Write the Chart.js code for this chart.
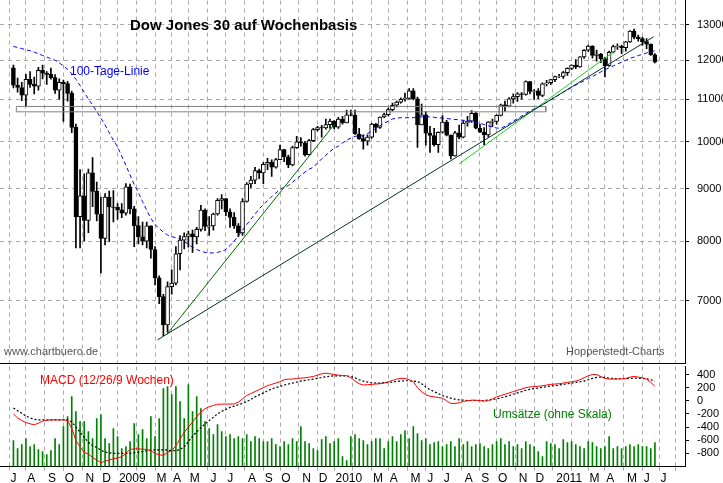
<!DOCTYPE html>
<html>
<head>
<meta charset="utf-8">
<script src="https://cdn.jsdelivr.net/npm/chart.js@4/dist/chart.umd.min.js"></script>
<style>
  body { margin: 0; background: #fff; width: 723px; height: 483px; overflow: hidden; position: relative; font-family: "Liberation Sans", Arial, sans-serif; }
  #top { position: absolute; left: 0; top: -14px; }
  #bottom { position: absolute; left: 0; top: 352px; }
  .lbl { position: absolute; white-space: nowrap; font-size: 12px; }
</style>
</head>
<body>
<canvas id="top" width="723" height="392"></canvas>
<canvas id="bottom" width="723" height="135"></canvas>
<div class="lbl" style="left:130px;top:16px;font-size:15px;font-weight:bold;color:#000">Dow Jones 30 auf Wochenbasis</div>
<div class="lbl" style="left:70px;top:64px;color:#0000ff">100-Tage-Linie</div>
<div class="lbl" style="left:4px;top:345px;font-size:11px;color:#555">www.chartbuero.de</div>
<div class="lbl" style="left:566px;top:345px;font-size:11px;color:#555">Hoppenstedt-Charts</div>
<div class="lbl" style="left:40px;top:373px;color:#ff0000">MACD (12/26/9 Wochen)</div>
<div class="lbl" style="left:493px;top:407px;color:#008000">Umsätze (ohne Skala)</div>
<script>
// weekly data, week 0 = end of June 2008
const firstOpen = 11800;
const closes = [11346,11289,11100,11496,11371,11326,11734,11659,11628,11543,
  11220,11421,11388,11143,10325,8451,8852,8378,9325,8943,
  8497,8046,8829,8635,8629,8579,8515,9034,8599,8281,
  8077,8000,8280,7850,7366,7063,6627,7224,7279,7776,
  8017,8083,8131,8076,8212,8575,8268,8277,8500,8764,
  8799,8540,8438,8280,8146,8743,9093,9172,9370,9321,
  9505,9544,9441,9605,9820,9665,9488,9865,9996,9972,
  9713,10023,10271,10319,10310,10388,10472,10329,10520,10428,
  10618,10610,10172,10067,10012,10099,10402,10325,10566,10624,
  10742,10850,10927,10997,11019,11204,11009,10380,10620,10193,
  10137,9931,10211,10450,10144,9686,10198,10097,10425,10466,
  10654,10303,10213,10150,10448,10462,10607,10860,10829,11006,
  11062,11132,11118,11444,11192,11203,11092,11382,11410,11491,
  11573,11577,11674,11787,11871,11823,12092,12273,12391,12130,
  12169,12044,11858,12220,12376,12380,12342,12505,12810,12638,
  12596,12512,12441,12151,11951];
const highs = [11870,11530,11420,11630,11700,11560,11810,11870,11700,11790,
  11620,11510,11480,11450,11200,10400,9390,9300,9400,9650,
  9130,8830,8900,8950,8960,8700,8700,9100,9090,8650,
  8450,8350,8350,8280,7900,7400,7100,7300,7500,7900,
  8100,8150,8180,8200,8250,8670,8600,8450,8520,8800,
  8880,8800,8600,8530,8320,8800,9120,9250,9440,9400,
  9540,9630,9600,9630,9920,9830,9700,9900,10120,10090,
  10000,10050,10300,10350,10370,10520,10520,10480,10560,10580,
  10730,10730,10730,10300,10150,10150,10420,10420,10570,10660,
  10780,10900,10950,11030,11150,11260,11260,11050,10880,10700,
  10350,10300,10220,10600,10490,10150,10230,10380,10480,10580,
  10720,10690,10400,10320,10460,10520,10620,10880,10950,11040,
  11130,11160,11160,11460,11450,11240,11260,11410,11470,11500,
  11580,11630,11710,11800,11880,12020,12100,12290,12420,12400,
  12280,12190,12080,12250,12420,12450,12420,12520,12830,12870,
  12700,12640,12600,12450,12180];
const lows = [11280,11170,10960,10830,11290,11130,11220,11510,11370,11500,
  11140,11000,10460,10950,10200,7880,7880,8000,8150,8640,
  8370,7450,7930,7990,8350,8400,8430,8480,8500,7900,
  7950,7930,7880,7700,7250,6950,6470,6520,7100,7250,
  7500,7860,7890,7800,7950,8180,8190,8100,8200,8480,
  8600,8470,8250,8230,8080,8100,8730,9020,9100,9200,
  9100,9390,9250,9420,9600,9560,9430,9470,9850,9900,
  9680,9700,10000,10240,10100,10280,10300,10290,10300,10400,
  10430,10590,10160,10050,9830,9920,10070,10210,10300,10550,
  10590,10710,10810,10900,10950,11000,10980,9870,10380,9920,
  9760,9900,9760,10190,10130,9620,9680,10060,10080,10350,
  10440,10290,10200,9930,10100,10340,10400,10590,10700,10810,
  10900,10940,11000,11100,11130,10990,11010,11060,11330,11360,
  11440,11540,11520,11600,11750,11780,11810,12050,12240,12060,
  11980,11940,11560,11840,12200,12300,12180,12250,12490,12590,
  12530,12410,12320,12130,11930];
const ma100 = [12380,12350,12320,12290,12260,12220,12180,12130,12090,12040,
  12000,11930,11850,11760,11650,11500,11340,11170,11000,10860,
  10700,10540,10380,10200,10030,9880,9680,9480,9280,9080,
  8920,8740,8570,8420,8300,8230,8160,8110,8080,8060,
  8030,7990,7940,7890,7850,7820,7800,7790,7790,7800,
  7820,7850,7920,8000,8090,8200,8300,8400,8500,8600,
  8680,8760,8840,8910,8980,9030,9060,9130,9200,9270,
  9340,9400,9440,9530,9620,9700,9780,9850,9900,9970,
  10030,10080,10120,10130,10130,10180,10240,10300,10360,10420,
  10470,10520,10540,10550,10550,10550,10550,10560,10570,10570,
  10570,10560,10550,10540,10530,10520,10510,10500,10490,10480,
  10470,10450,10420,10390,10360,10330,10310,10300,10350,10410,
  10470,10530,10590,10650,10710,10760,10800,10860,10920,10980,
  11040,11110,11170,11230,11290,11350,11410,11460,11520,11570,
  11630,11690,11750,11800,11850,11900,11950,12000,12050,12090,
  12130,12160,12200,12230,12260];
const macd = [-200,-260,-300,-330,-350,-365,-340,-310,-295,-290,
  -290,-290,-290,-300,-420,-600,-700,-785,-810,-860,
  -900,-940,-920,-900,-880,-870,-850,-800,-740,-730,
  -730,-735,-740,-760,-800,-820,-830,-780,-760,-680,
  -580,-480,-400,-320,-240,-170,-120,-90,-70,-55,
  -50,-50,-50,-48,-20,30,80,110,140,170,
  200,230,250,270,290,320,330,330,340,345,
  350,360,370,390,410,420,410,400,390,385,
  380,350,300,260,240,245,250,255,260,270,
  290,310,330,340,340,320,290,200,140,90,
  70,60,50,40,0,-40,-40,-30,-10,0,
  10,10,0,-5,0,30,60,80,100,120,
  140,160,180,200,210,215,220,230,240,250,
  255,260,270,280,290,300,320,350,380,400,
  400,370,340,330,330,330,335,340,360,370,
  360,350,330,280,220];
const signal = [-110,-150,-190,-230,-260,-280,-290,-290,-290,-290,
  -290,-290,-290,-290,-320,-400,-480,-560,-630,-680,
  -710,-750,-780,-790,-800,-800,-800,-800,-800,-790,
  -780,-770,-760,-750,-745,-745,-745,-750,-755,-760,
  -740,-700,-620,-540,-470,-410,-350,-300,-250,-200,
  -160,-130,-100,-80,-60,-40,-10,20,60,90,
  120,150,180,200,220,240,255,270,285,300,
  310,320,330,340,355,365,375,380,380,380,
  378,370,350,320,300,285,275,270,270,275,
  280,285,295,300,305,305,300,295,260,210,
  170,140,110,80,60,40,25,15,10,5,
  5,5,5,5,10,20,30,45,60,80,
  100,120,140,160,175,185,195,205,215,225,
  230,240,250,260,270,280,290,300,320,340,
  355,360,355,345,340,335,335,335,340,345,
  345,340,335,320,300];
const volume = [26,18,22,28,20,22,17,15,12,16,
  28,22,40,50,70,55,45,45,35,28,
  48,52,28,23,38,30,18,20,25,43,
  32,37,28,50,30,48,78,80,72,80,
  65,48,82,55,70,58,45,38,32,42,
  35,30,32,28,30,28,32,25,30,28,
  25,25,28,22,20,25,22,28,25,40,
  25,23,18,16,27,30,23,25,28,10,
  6,30,32,28,26,22,25,28,28,18,
  25,30,25,32,36,28,40,33,26,28,
  22,24,25,20,22,25,20,28,22,25,
  20,22,23,20,18,22,25,28,22,25,
  20,22,18,25,22,20,15,10,25,23,
  22,18,27,24,25,22,20,18,25,24,
  20,18,20,30,18,20,18,20,22,20,
  22,20,20,18,24];

const priceTicks = [7000, 8000, 9000, 10000, 11000, 12000, 13000];
const macdTicks = [400, 200, 0, -200, -400, -600, -800];
const monthWeeks = [1,5,10,14,19,23,27,32,36,40,44,49,53,58,62,66,71,75,79,84,88,92,97,101,105,110,114,118,123,127,132,136,140,144,149,153,157];
const monthLabels = ['J','A','S','O','N','D','2009','','M','A','M','J','J','A','S','O','N','D','2010','','M','A','M','J','J','A','S','O','N','D','2011','','M','A','M','J','J'];

// trend lines [week, price]
const trendBlack = [[34.6, 6410], [153.7, 12650]];
const trendSteep = [[36.7, 6480], [77.1, 10400]];
const trendGreen = [[107, 9510], [144.2, 12240]];
const bandWeeks = [0.7, 127.8];
const bandPrices = [10690, 10820];

const opens = closes.map((c, i) => i === 0 ? firstOpen : closes[i - 1]);
const font = { family: 'Liberation Sans', size: 11 };

function xScale(showLabels) {
  return {
    type: 'linear', min: -1, max: 159,
    afterBuildTicks: s => { s.ticks = monthWeeks.map(v => ({ value: v })); },
    grid: { color: '#a8a8a8', tickLength: 4, drawTicks: showLabels },
    border: { display: true, color: '#000', dash: [4, 4] },
    ticks: {
      display: showLabels, autoSkip: false, maxRotation: 0, align: 'start', labelOffset: -7,
      color: '#000', font: { family: 'Liberation Sans', size: 12 }, padding: 1,
      callback: (v) => { const i = monthWeeks.indexOf(v); return i < 0 ? '' : monthLabels[i]; }
    }
  };
}

const pts = arr => arr.map(p => ({ x: p[0], y: p[1] }));

new Chart(document.getElementById('top'), {
  type: 'bar',
  data: {
    datasets: [
      { type: 'line', data: ma100.map((v, i) => ({ x: i, y: v })), borderColor: '#0000ff', borderWidth: 1, borderDash: [4, 3], pointRadius: 0, order: -1 },
      { type: 'line', data: pts(trendBlack), borderColor: '#003322', borderWidth: 1, pointRadius: 0, order: -2 },
      { type: 'line', data: pts(trendSteep), borderColor: '#006600', borderWidth: 1, pointRadius: 0, order: -2 },
      { type: 'line', data: pts(trendGreen), borderColor: '#22cc22', borderWidth: 1, pointRadius: 0, order: -2 },
      { type: 'line', data: [
          { x: bandWeeks[0], y: bandPrices[1] }, { x: bandWeeks[1], y: bandPrices[1] },
          { x: bandWeeks[1], y: bandPrices[0] }, { x: bandWeeks[0], y: bandPrices[0] },
          { x: bandWeeks[0], y: bandPrices[1] }],
        borderColor: '#808080', borderWidth: 1, pointRadius: 0, order: -1 },
      { data: closes.map((c, i) => ({ x: i, y: [lows[i], highs[i]] })), backgroundColor: '#000', barThickness: 1, grouped: false, order: 2 },
      { data: closes.map((c, i) => ({ x: i, y: [opens[i], c] })),
        backgroundColor: ctx => closes[ctx.dataIndex] >= opens[ctx.dataIndex] ? '#fff' : '#000',
        borderColor: '#000', borderWidth: 1, borderSkipped: false, barThickness: 4, grouped: false, order: 1 }
    ]
  },
  options: {
    responsive: false, animation: false,
    plugins: { legend: { display: false }, tooltip: { enabled: false } },
    scales: {
      x: xScale(false),
      y: {
        type: 'logarithmic', position: 'right', min: 6080, max: 13720,
        afterBuildTicks: s => { s.ticks = priceTicks.map(v => ({ value: v })); },
        afterFit: s => { s.width = 38; },
        grid: { color: '#a8a8a8', tickLength: 4, tickColor: '#000' },
        border: { display: true, color: '#000', dash: [4, 4] },
        ticks: { color: '#000', font, padding: 8, callback: v => String(v) }
      }
    }
  }
});

new Chart(document.getElementById('bottom'), {
  type: 'bar',
  data: {
    datasets: [
      { type: 'line', data: macd.map((v, i) => ({ x: i, y: v })), borderColor: '#ff0000', borderWidth: 1, pointRadius: 0, yAxisID: 'y', order: -2 },
      { type: 'line', data: signal.map((v, i) => ({ x: i, y: v })), borderColor: '#000', borderWidth: 1.2, borderDash: [2, 2], pointRadius: 0, yAxisID: 'y', order: -1 },
      { data: volume.map((v, i) => ({ x: i, y: v })), backgroundColor: '#008000', barThickness: 1, grouped: false, yAxisID: 'yv', order: 1 }
    ]
  },
  options: {
    responsive: false, animation: false,
    plugins: { legend: { display: false }, tooltip: { enabled: false } },
    scales: {
      x: xScale(true),
      y: {
        position: 'right', min: -1000, max: 520,
        afterBuildTicks: s => { s.ticks = macdTicks.map(v => ({ value: v })); },
        afterFit: s => { s.width = 38; },
        grid: { drawOnChartArea: false, tickLength: 4, tickColor: '#000' },
        border: { display: true, color: '#000' },
        ticks: { color: '#000', font, padding: 8, autoSkip: false }
      },
      yv: { display: false, min: 0, max: 100 }
    }
  }
});
</script>
</body>
</html>
